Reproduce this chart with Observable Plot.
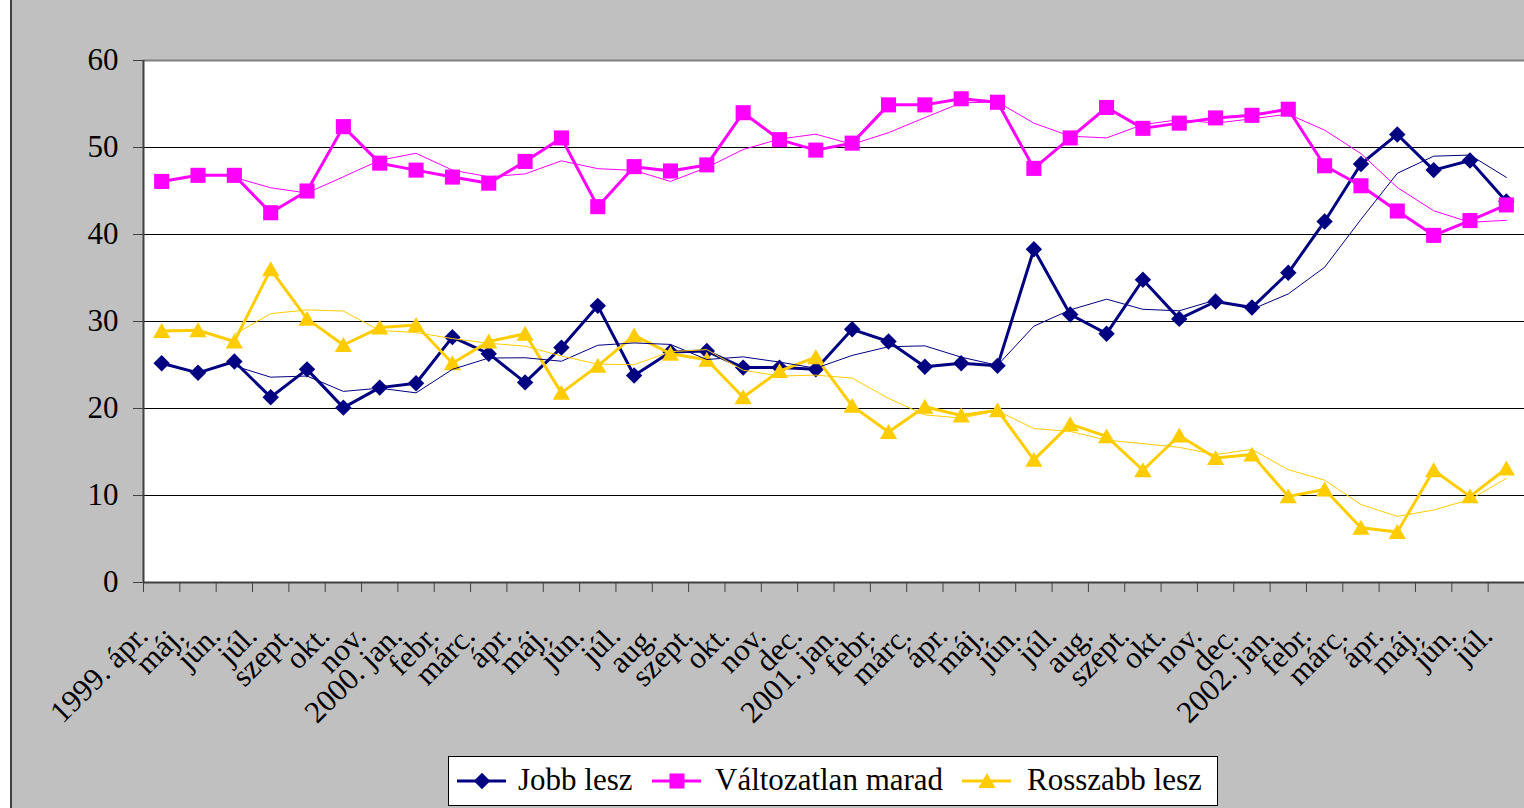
<!DOCTYPE html>
<html><head><meta charset="utf-8">
<script src="https://cdn.jsdelivr.net/npm/d3@7"></script>
<script src="https://cdn.jsdelivr.net/npm/@observablehq/plot@0.6"></script>
<style>
html,body{margin:0;padding:0;background:#fff;}
#wrap{margin-left:10px;width:1512px;height:808px;background:#c0c0c0;border-left:2px solid #404040;overflow:hidden;position:relative;}
#chart svg{display:block;}
#legendRow{height:58px;position:relative;}
#legend{position:absolute;left:436px;top:6px;width:768px;height:48px;background:#fff;border:1px solid #000;font-family:"Liberation Serif",serif;font-size:31px;color:#000;}
#legend .sw{position:absolute;top:12px;}
#legend .tx{position:absolute;top:5px;line-height:36px;white-space:nowrap;}
</style></head><body>
<div id="wrap"><div id="chart"></div><div id="legendRow"><div id="legend"></div></div></div>
<script>
const months = ["1999. ápr.","máj.","jún.","júl.","szept.","okt.","nov.","2000. jan.","febr.","márc.","ápr.","máj.","jún.","júl.","aug.","szept.","okt.","nov.","dec.","2001. jan.","febr.","márc.","ápr.","máj.","jún.","júl.","aug.","szept.","okt.","nov.","dec.","2002. jan.","febr.","márc.","ápr.","máj.","jún.","júl."];
const jobb = [25.2,24.1,25.4,21.3,24.5,20.1,22.4,22.9,28.2,26.3,23.0,27.0,31.8,23.8,26.5,26.6,24.7,24.7,24.5,29.1,27.7,24.8,25.2,24.9,38.3,30.8,28.6,34.8,30.3,32.3,31.6,35.6,41.5,48.1,51.5,47.4,48.5,43.8];
const valtozatlan = [46.1,46.8,46.8,42.5,45.0,52.4,48.2,47.4,46.6,45.9,48.4,51.1,43.2,47.8,47.3,48.0,54.0,50.9,49.7,50.5,54.9,54.9,55.6,55.2,47.6,51.1,54.6,52.2,52.8,53.4,53.7,54.4,47.9,45.6,42.7,39.9,41.6,43.4];
const rosszabb = [28.9,29.0,27.7,36.0,30.3,27.3,29.3,29.6,25.2,27.7,28.6,21.8,24.9,28.4,26.3,25.6,21.3,24.3,25.9,20.3,17.3,20.2,19.2,19.8,14.1,18.2,16.8,12.9,16.9,14.3,14.7,9.9,10.7,6.3,5.8,12.9,9.9,13.1];
const seriesNames = ["Jobb lesz","Változatlan marad","Rosszabb lesz"];
const seriesColors = ["#000080","#FF00FF","#FFCC00"];
const seriesSymbols = ["diamond2","square","triangle"];
const yTicks = [0,10,20,30,40,50,60];

const seriesValues = [jobb, valtozatlan, rosszabb];
const data = [];
seriesValues.forEach((vals, s) => vals.forEach((v, i) => data.push({series: seriesNames[s], i, v})));
const labels = months.map((m, i) => ({m, i}));
const font = "Liberation Serif";

const marks = [
  Plot.frame({fill: "white", stroke: "none"}),
  Plot.ruleY([10,20,30,40,50], {stroke: "black", strokeWidth: 1}),
  Plot.ruleY([60], {stroke: "#808080", strokeWidth: 2}),
  Plot.ruleY([0], {stroke: "#404040", strokeWidth: 2}),
  Plot.ruleX([-0.5], {stroke: "#404040", strokeWidth: 2}),
  Plot.text(yTicks, {x: () => -0.5, y: d => d, text: d => String(d), textAnchor: "end", dx: -25, fontSize: 31, fontFamily: font, fill: "black"}),
  Plot.text(labels, {x: "i", y: () => 0, text: "m", rotate: -45, textAnchor: "end", lineAnchor: "bottom", dx: -12, dy: 55, fontSize: 31, fontFamily: font, fill: "black"})
];
seriesNames.forEach((name, s) => {
  const d = data.filter(r => r.series === name);
  marks.push(Plot.line(d, {x: "i", y: "v", stroke: seriesColors[s], strokeWidth: 3}));
  marks.push(Plot.dot(d, {x: "i", y: "v", fill: seriesColors[s], symbol: () => seriesSymbols[s], r: s === 0 ? 7.4 : s === 1 ? 8.5 : 6.4, dy: s === 2 ? 2 : 0}));
});
seriesNames.forEach((name, s) => {
  const d = data.filter(r => r.series === name);
  marks.push(Plot.line(d, Plot.windowY({k: 3, anchor: "end", reduce: "mean", strict: true}, {x: "i", y: "v", stroke: seriesColors[s], strokeWidth: 1})));
});

const chart = Plot.plot({
  width: 1512,
  height: 750,
  marginLeft: 131,
  marginRight: 0,
  marginTop: 60,
  marginBottom: 168,
  style: {background: "#c0c0c0", color: "#404040", fontFamily: font, overflow: "visible"},
  x: {type: "linear", domain: [-0.5, 37.5], ticks: d3.range(39).map(i => i - 0.5), tickSize: 10, tickFormat: () => "", label: null},
  y: {domain: [0, 60], ticks: yTicks, tickSize: 10, tickFormat: () => "", label: null},
  symbol: {type: "identity"},
  marks
});
document.getElementById("chart").appendChild(chart);

// legend
const legend = document.getElementById("legend");
const pos = [[8, 69], [203, 266], [513, 578]];
const rs = [7.4, 8.5, 6.4];
const symMap = {diamond2: d3.symbolDiamond2, square: d3.symbolSquare, triangle: d3.symbolTriangle};
seriesNames.forEach((name, s) => {
  const sw = document.createElementNS("http://www.w3.org/2000/svg", "svg");
  sw.setAttribute("width", 50); sw.setAttribute("height", 24);
  sw.setAttribute("class", "sw");
  sw.style.left = pos[s][0] + "px";
  const path = d3.symbol(symMap[seriesSymbols[s]], Math.PI * rs[s] * rs[s])();
  sw.innerHTML = `<line x1="0" x2="49" y1="12" y2="12" stroke="${seriesColors[s]}" stroke-width="3"/><path d="${path}" transform="translate(25,${s === 2 ? 14 : 12})" fill="${seriesColors[s]}"/>`;
  legend.appendChild(sw);
  const tx = document.createElement("div");
  tx.className = "tx"; tx.style.left = pos[s][1] + "px"; tx.textContent = name;
  legend.appendChild(tx);
});
</script>
</body></html>
